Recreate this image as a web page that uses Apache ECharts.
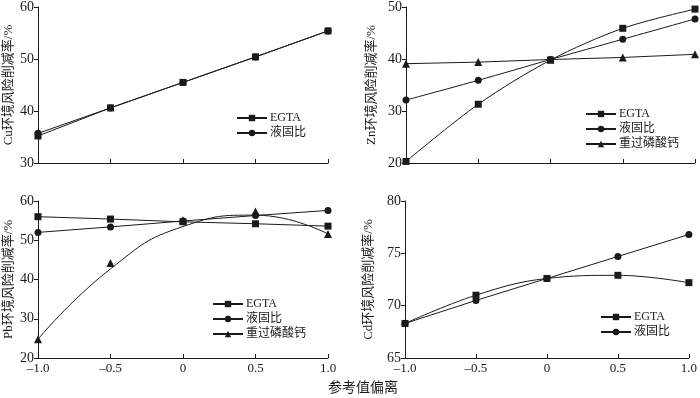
<!DOCTYPE html>
<html>
<head>
<meta charset="utf-8">
<script src="https://cdn.jsdelivr.net/npm/echarts@6/dist/echarts.min.js"></script>
<style>
  html, body { margin: 0; padding: 0; background: #fff; }
  #main { width: 700px; height: 398px; }
</style>
</head>
<body>
<div id="main"></div>
<script>
// 参考值偏离
const xValues = [-1.0, -0.5, 0, 0.5, 1.0]
const xTickLabels = ['\u20131.0', '\u20130.5', '0', '0.5', '1.0']

// Cu
const cuEgta = [35.2, 40.6, 45.5, 50.4, 55.4]
const cuLiquid = [35.7, 40.6, 45.5, 50.4, 55.4]
// Zn
const znEgta = [20.3, 31.3, 39.8, 45.9, 49.6]
const znLiquid = [32.1, 35.9, 39.9, 43.8, 47.7]
const znSuper = [39.1, 39.4, 39.9, 40.3, 40.9]
// Pb
const pbEgta = [56.0, 55.4, 54.7, 54.2, 53.6]
const pbLiquid = [52.0, 53.4, 54.9, 56.3, 57.6]
const pbSuper = [24.8, 44.2, 55.1, 57.3, 51.6]
const pbSuperFit = [24.8, 42.7, 53.5, 56.4, 51.6] // fitted curve
// Cd
const cdEgta = [68.3, 71.0, 72.6, 72.9, 72.2]
const cdLiquid = [68.3, 70.5, 72.6, 74.7, 76.8]

const ink = '#1a1a1a'
const serif = 'Liberation Serif, Noto Sans CJK SC, serif'

function pairs(ys) {
  return xValues.map((x, i) => [x, ys[i]])
}

function xAxis(gridIndex, showLabel) {
  return {
    type: 'value',
    gridIndex: gridIndex,
    min: -1,
    max: 1,
    interval: 0.5,
    splitLine: { show: false },
    axisLine: { onZero: false, lineStyle: { color: ink, width: 1 } },
    axisTick: { inside: true, length: 4, lineStyle: { color: ink } },
    axisLabel: {
      show: showLabel,
      color: ink,
      fontFamily: serif,
      fontSize: 13,
      margin: 4,
      formatter: function(v) {
        return xTickLabels[Math.round((v + 1) / 0.5)]
      }
    }
  }
}

function yAxis(gridIndex, name, min, max, interval, gap) {
  return {
    type: 'value',
    gridIndex: gridIndex,
    min: min,
    max: max,
    interval: interval,
    name: name,
    nameLocation: 'middle',
    nameGap: gap,
    nameTextStyle: { color: ink, fontFamily: serif, fontSize: 13 },
    splitLine: { show: false },
    axisLine: { show: true, onZero: false, lineStyle: { color: ink, width: 1 } },
    axisTick: { show: true, length: 4, lineStyle: { color: ink } },
    axisLabel: { color: ink, fontFamily: serif, fontSize: 14, margin: 4 }
  }
}

function line(name, idx, ys, symbol, smooth) {
  return {
    name: name,
    type: 'line',
    xAxisIndex: idx,
    yAxisIndex: idx,
    data: pairs(ys),
    symbol: symbol,
    symbolSize: symbol === 'triangle' ? 8 : 7,
    smooth: smooth || false,
    showAllSymbol: true,
    animation: false,
    lineStyle: { color: ink, width: 1 },
    itemStyle: { color: ink }
  }
}

function legend(names, left, top) {
  return {
    orient: 'vertical',
    left: left,
    top: top,
    padding: 0,
    itemWidth: 30,
    itemHeight: 8,
    itemGap: 3,
    selectedMode: false,
    textStyle: { color: ink, fontFamily: serif, fontSize: 12, padding: [0, 0, 0, -2] },
    data: names
  }
}

const myChart = echarts.init(document.getElementById('main'))

const pbSuperMarks = line('重过磷酸钙', 2, pbSuper, 'triangle')
pbSuperMarks.lineStyle = { opacity: 0 }

const option = {
  animation: false,
  title: {
    text: '参考值偏离',
    left: 328,
    top: 381,
    padding: 0,
    textStyle: { color: ink, fontFamily: serif, fontSize: 14, fontWeight: 'normal' }
  },
  grid: [
    { left: 38, top: 6, width: 290, height: 157 },
    { left: 406, top: 6, width: 289, height: 157 },
    { left: 38, top: 201, width: 290, height: 157 },
    { left: 405, top: 201, width: 288, height: 157 }
  ],
  xAxis: [xAxis(0, false), xAxis(1, false), xAxis(2, true), xAxis(3, true)],
  yAxis: [
    yAxis(0, 'Cu环境风险削减率/%', 30, 60, 10, 23),
    yAxis(1, 'Zn环境风险削减率/%', 20, 50, 10, 28),
    yAxis(2, 'Pb环境风险削减率/%', 20, 60, 10, 23),
    yAxis(3, 'Cd环境风险削减率/%', 65, 80, 5, 30)
  ],
  legend: [
    legend(['EGTA', '液固比'], 236, 112),
    legend(['EGTA', '液固比', '重过磷酸钙'], 585, 108),
    legend(['EGTA', '液固比', '重过磷酸钙'], 212, 298),
    legend(['EGTA', '液固比'], 600, 311)
  ],
  series: [
    line('EGTA', 0, cuEgta, 'rect'),
    line('液固比', 0, cuLiquid, 'circle'),
    line('EGTA', 1, znEgta, 'rect', 0.3),
    line('液固比', 1, znLiquid, 'circle', 0.3),
    line('重过磷酸钙', 1, znSuper, 'triangle'),
    line('EGTA', 2, pbEgta, 'rect'),
    line('液固比', 2, pbLiquid, 'circle'),
    pbSuperMarks,
    {
      name: 'pbFit',
      type: 'line',
      xAxisIndex: 2,
      yAxisIndex: 2,
      data: pairs(pbSuperFit),
      symbol: 'none',
      smooth: 0.5,
      silent: true,
      lineStyle: { color: ink, width: 1 }
    },
    line('EGTA', 3, cdEgta, 'rect', 0.4),
    line('液固比', 3, cdLiquid, 'circle')
  ]
}

myChart.setOption(option)
</script>
</body>
</html>
